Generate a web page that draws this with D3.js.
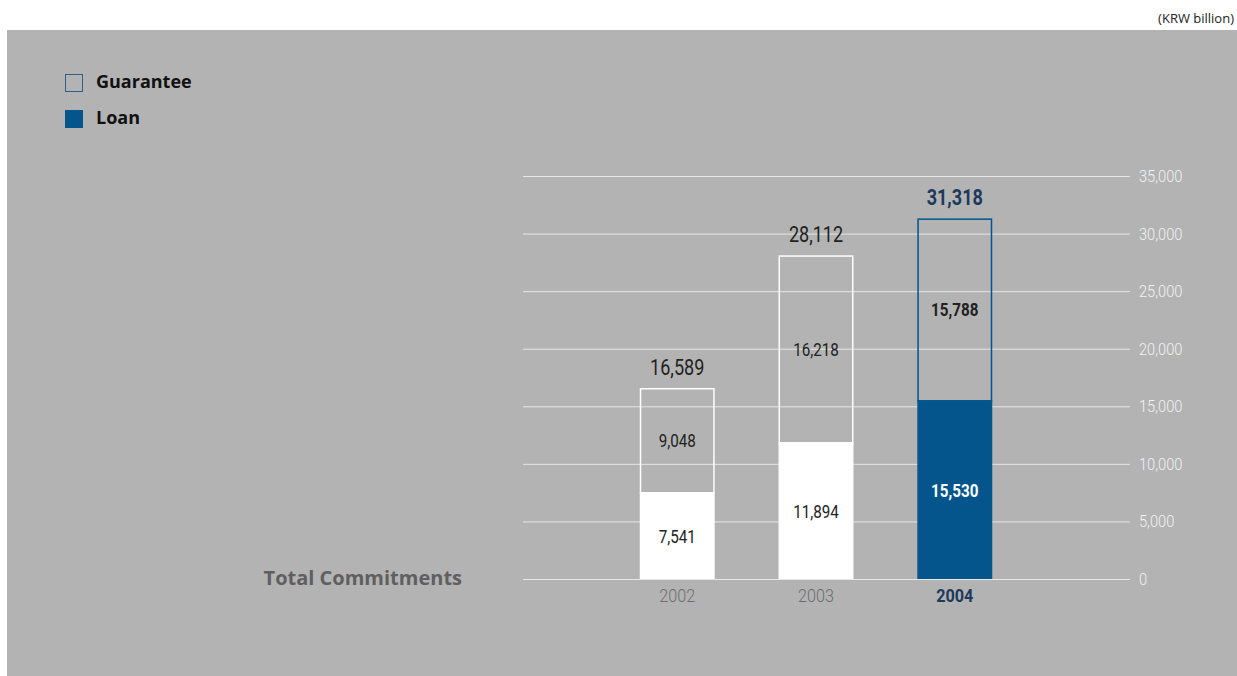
<!DOCTYPE html>
<html>
<head>
<meta charset="utf-8">
<script src="https://cdn.jsdelivr.net/npm/d3@7"></script>
<style>
  html, body { margin: 0; padding: 0; background: #ffffff; }
  svg { display: block; }
  .cond { font-family: "Roboto", sans-serif; }
</style>
</head>
<body>
<svg id="chart" width="1237" height="676"></svg>
<script>
// Commitments by year, KRW billion
const years = ["2002", "2003", "2004"];
const loan = [7541, 11894, 15530];
const guarantee = [9048, 16218, 15788];
const totals = [16589, 28112, 31318];
const yTicks = [0, 5000, 10000, 15000, 20000, 25000, 30000, 35000];
const legendItems = ["Guarantee", "Loan"];

const W = 1237, H = 676;
const blue = "#03558c";
const navy = "#1d3a5c";
const svg = d3.select("#chart");

// narrow the natural glyph run to get a condensed face
function condense(sel, k) {
  sel.each(function () {
    const len = this.getComputedTextLength();
    d3.select(this).attr("textLength", len * k).attr("lengthAdjust", "spacingAndGlyphs");
  });
  return sel;
}

// panel background
svg.append("rect").attr("x", 7).attr("y", 30).attr("width", W - 7).attr("height", H - 30)
  .attr("fill", "#b3b3b3");

svg.append("text").attr("x", 1234).attr("y", 23).attr("text-anchor", "end")
  .attr("font-family", "Open Sans, sans-serif").attr("font-size", 13).attr("fill", "#222")
  .text("(KRW billion)");

const y = d3.scaleLinear().domain([0, 35000]).range([579, 176]);
const x = d3.scaleBand().domain(years).range([612, 1020]).paddingInner(0.46).paddingOuter(0.2);

// grid + right axis labels
const axis = d3.axisRight(y).tickValues(yTicks).tickSize(0).tickFormat(d3.format(","));
const gAxis = svg.append("g").attr("transform", "translate(1130,0)").call(axis);
gAxis.select(".domain").remove();
gAxis.selectAll(".tick line").attr("x1", -607).attr("x2", 0)
  .attr("stroke", "#e6e6e6").attr("stroke-width", 1);
gAxis.selectAll(".tick text").attr("x", 9).attr("class", "cond")
  .attr("font-size", 17).attr("fill", "#f2f2f2").attr("font-weight", 300);
condense(gAxis.selectAll(".tick text"), 0.86);

const isLast = (i) => i === years.length - 1;

// bars
years.forEach((yr, i) => {
  const x0 = x(yr), bw = x.bandwidth();
  const top = y(loan[i] + guarantee[i]);
  // guarantee outline (stacked above loan)
  svg.append("rect")
    .attr("x", x0 + 0.75).attr("y", top + 0.75)
    .attr("width", bw - 1.5).attr("height", y(loan[i]) - top)
    .attr("fill", "none").attr("stroke", isLast(i) ? blue : "#ffffff").attr("stroke-width", 1.5);
  // loan fill
  svg.append("rect")
    .attr("x", x0).attr("y", y(loan[i]))
    .attr("width", bw).attr("height", y(0) - y(loan[i]))
    .attr("fill", isLast(i) ? blue : "#ffffff");

  const cx = x0 + bw / 2;
  // segment labels
  condense(svg.append("text").attr("class", "cond").attr("x", cx)
    .attr("y", (y(loan[i]) + y(0)) / 2 + 7).attr("text-anchor", "middle")
    .attr("font-size", 19).attr("font-weight", isLast(i) ? "bold" : "normal")
    .attr("fill", isLast(i) ? "#ffffff" : "#222")
    .text(d3.format(",")(loan[i])), 0.8);
  condense(svg.append("text").attr("class", "cond").attr("x", cx)
    .attr("y", (y(loan[i]) + top) / 2 + 7).attr("text-anchor", "middle")
    .attr("font-size", 19).attr("font-weight", isLast(i) ? "bold" : "normal")
    .attr("fill", "#222")
    .text(d3.format(",")(guarantee[i])), 0.8);
  // total label
  condense(svg.append("text").attr("class", "cond").attr("x", cx)
    .attr("y", y(totals[i]) - 13).attr("text-anchor", "middle")
    .attr("font-size", 22).attr("font-weight", isLast(i) ? "bold" : "normal")
    .attr("fill", isLast(i) ? navy : "#222")
    .text(d3.format(",")(totals[i])), 0.82);
  // year label
  condense(svg.append("text").attr("class", "cond").attr("x", cx)
    .attr("y", 602).attr("text-anchor", "middle")
    .attr("font-size", 18).attr("font-weight", isLast(i) ? "bold" : 300)
    .attr("fill", isLast(i) ? navy : "#6e6e6e")
    .text(yr), 0.9);
});

svg.append("text").attr("x", 462).attr("y", 585).attr("text-anchor", "end")
  .attr("font-family", "Open Sans, sans-serif").attr("font-weight", "bold")
  .attr("font-size", 20).attr("fill", "#5f5f5f")
  .text("Total Commitments");

// legend
legendItems.forEach((name, i) => {
  const ly = 74 + i * 36;
  svg.append("rect").attr("x", i === 0 ? 65.5 : 65).attr("y", i === 0 ? ly + 0.5 : ly)
    .attr("width", i === 0 ? 17 : 18).attr("height", i === 0 ? 17 : 18)
    .attr("fill", i === 0 ? "none" : blue).attr("stroke", i === 0 ? "#2f5f88" : "none");
  svg.append("text").attr("x", 96).attr("y", ly + 14)
    .attr("font-family", "Open Sans, sans-serif").attr("font-weight", "bold")
    .attr("font-size", 18).attr("fill", "#111").text(name);
});
</script>
</body>
</html>
